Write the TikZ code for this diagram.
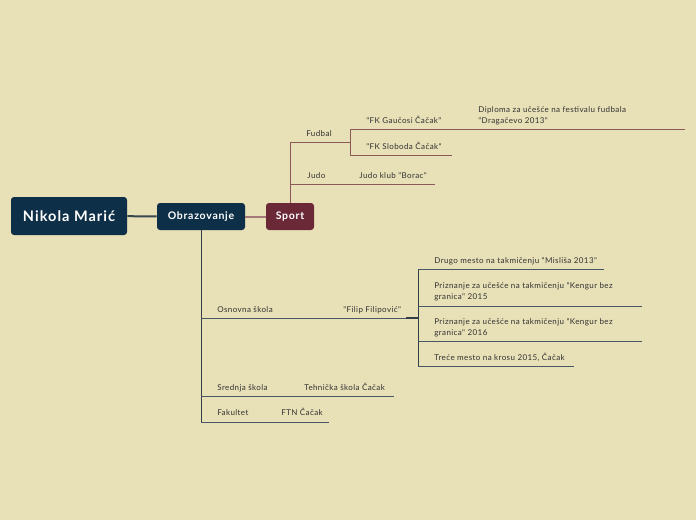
\documentclass[tikz,border=0pt]{standalone}
\usepackage{fontspec}
\setmainfont{Lato}
\newfontfamily\leaffont{Lato}[LetterSpace=5]
\newfontfamily\boxfont{Lato}[LetterSpace=7,BoldFont={Lato Bold}]
\definecolor{bgcol}{RGB}{232,224,183}
\definecolor{navy}{RGB}{14,47,72}
\definecolor{wine}{RGB}{107,41,56}
\definecolor{navyline}{RGB}{70,88,100}
\definecolor{wineline}{RGB}{140,88,88}
\definecolor{txt}{RGB}{50,50,50}

\begin{document}
\begin{tikzpicture}[x=1pt,y=-1pt,line width=.7pt,font=\leaffont\fontsize{8}{11}\selectfont,
  box/.style={rounded corners=3pt,text=white,font=\boxfont\bfseries\fontsize{10.5}{12}\selectfont,inner sep=0pt},
  rootbox/.style={box,fill=navy,minimum width=116pt,minimum height=38pt,font=\boxfont\bfseries\fontsize{14.5}{16}\selectfont},
  topicbox/.style={box,fill=navy,minimum width=88pt,minimum height=27pt},
  sportbox/.style={box,fill=wine,minimum width=48pt,minimum height=27pt},
  leaf/.style={anchor=south west,inner sep=0pt,text depth=0pt,text=txt,align=left},
  oline/.style={draw=navyline},
  sline/.style={draw=wineline}]
\useasboundingbox[fill=bgcol] (0,0) rectangle (696,520);

% central topics
\node[rootbox] (nikola) at (69,216) {Nikola Marić};
\node[topicbox] (obraz) at (201,216.5) {Obrazovanje};
\node[sportbox] (sport) at (290,216.5) {Sport};
\draw[navyline!80!black,line width=2pt] (nikola) -- (obraz);
\draw[wineline!80!white,line width=2pt] (obraz) -- (sport);

% sport branch
\coordinate (fudL) at (290,142);
\coordinate (fudR) at (350,142);
\coordinate (judL) at (290,184);
\coordinate (judR) at (435,184);
\coordinate (gauL) at (350,129);
\coordinate (gauR) at (685,129);
\coordinate (sloL) at (350,155);
\coordinate (sloR) at (452,155);
\draw[sline] (sport.north) -- (fudL) -- (fudR);
\draw[sline] (judL) -- (judR);
\draw[sline] (gauL) -- (sloL);
\draw[sline] (gauL) -- (gauR);
\draw[sline] (sloL) -- (sloR);
\node[leaf] (fudbal) at (306,137) {Fudbal};
\node[leaf] (gaucosi) at (366,124) {"FK Gaučosi Čačak"};
\node[leaf] (diploma) at (478,124) {Diploma za učešće na festivalu fudbala\\"Dragačevo 2013"};
\node[leaf] (sloboda) at (366,150) {"FK Sloboda Čačak"};
\node[leaf] (judo) at (307,179) {Judo};
\node[leaf] (borac) at (359,179) {Judo klub "Borac"};

% obrazovanje branch
\coordinate (obrEnd) at (201,422);
\coordinate (osnL) at (201,318);
\coordinate (osnR) at (406,318);
\coordinate (osnJ) at (418,318);
\coordinate (it1L) at (418,269);
\coordinate (it1R) at (604,269);
\coordinate (it2L) at (418,306);
\coordinate (it2R) at (642,306);
\coordinate (it3L) at (418,341);
\coordinate (it3R) at (642,341);
\coordinate (it4L) at (418,366);
\coordinate (it4R) at (574,366);
\coordinate (sreL) at (201,396);
\coordinate (sreR) at (394,396);
\coordinate (fakR) at (329,422);
\draw[navyline!70!black] (obraz.south) -- (obrEnd);
\draw[oline] (osnL) -- (osnR);
\draw[navyline!70!black,line width=1.6pt] (osnR) -- (osnJ);
\draw[navyline!70!black] (it1L) -- (it4L);
\draw[oline] (it1L) -- (it1R);
\draw[oline] (it2L) -- (it2R);
\draw[oline] (it3L) -- (it3R);
\draw[oline] (it4L) -- (it4R);
\draw[oline] (sreL) -- (sreR);
\draw[oline] (obrEnd) -- (fakR);
\node[leaf] (osnovna) at (217,313) {Osnovna škola};
\node[leaf] (filip) at (343,313) {"Filip Filipović"};
\node[leaf] (drugo) at (434,264) {Drugo mesto na takmičenju "Misliša 2013"};
\node[leaf] (kengur1) at (434,300) {Priznanje za učešće na takmičenju "Kengur bez\\granica" 2015};
\node[leaf] (kengur2) at (434,336) {Priznanje za učešće na takmičenju "Kengur bez\\granica" 2016};
\node[leaf] (kros) at (434,361) {Treće mesto na krosu 2015, Čačak};
\node[leaf] (srednja) at (217,391) {Srednja škola};
\node[leaf] (tehnicka) at (304,391) {Tehnička škola Čačak};
\node[leaf] (fakultet) at (217,416) {Fakultet};
\node[leaf] (ftn) at (281,416) {FTN Čačak};
\end{tikzpicture}
\end{document}
